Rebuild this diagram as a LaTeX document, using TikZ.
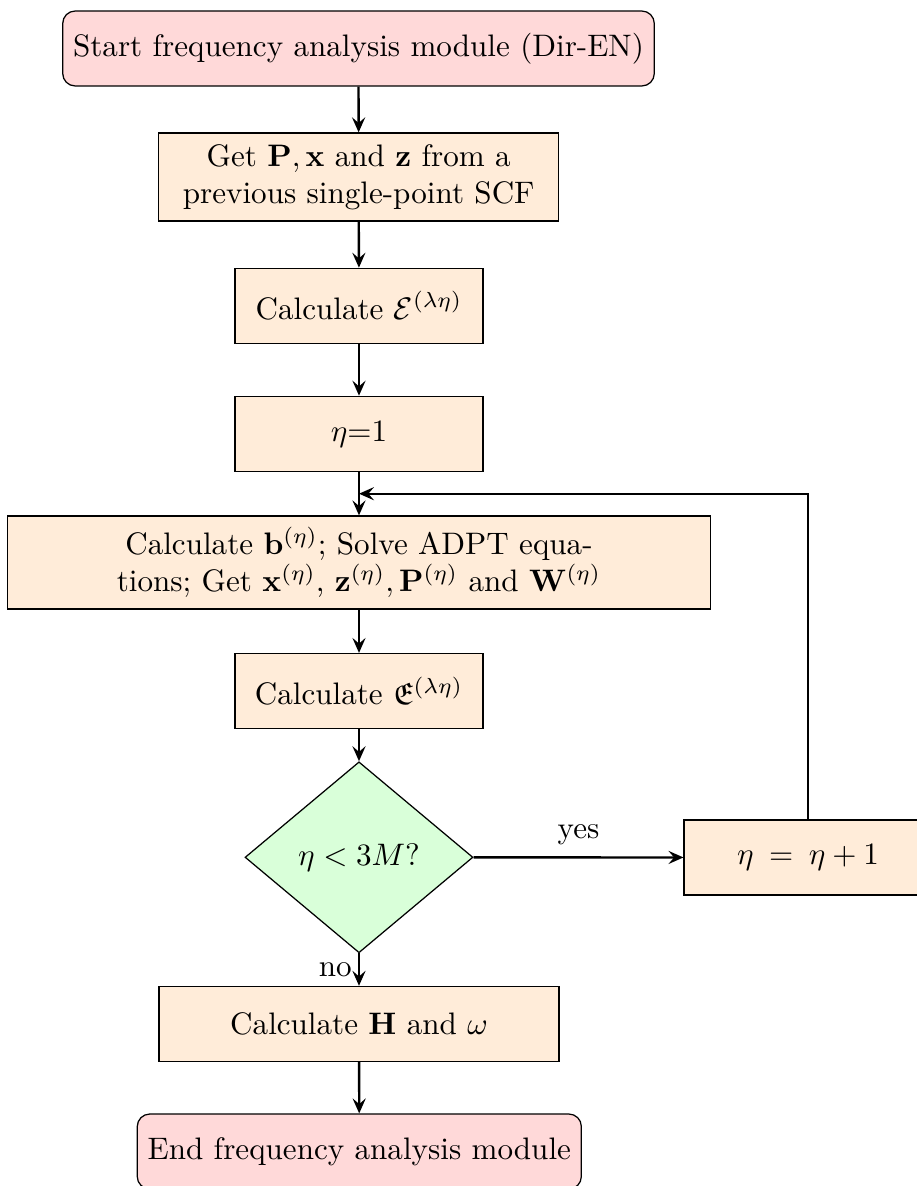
\documentclass[tikz,border=0pt]{standalone}
\usepackage{amsmath,amssymb}
\usetikzlibrary{shapes.geometric,arrows.meta}
\begin{document}
\begin{tikzpicture}[x=0.32155pt,y=-0.32155pt,
  base/.style={draw, line width=0.4pt, align=center, inner sep=3.33pt},
  term/.style={base, rounded corners=4pt, fill=red!15, minimum height=24.1pt},
  proc/.style={base, fill=orange!15, minimum height=24.1pt},
  smallproc/.style={proc, minimum width=79.7pt},
  wideproc/.style={proc, minimum width=128.6pt},
  dec/.style={base, diamond, fill=green!15, inner sep=0pt, minimum width=73.3pt, minimum height=61.4pt},
  conn/.style={line width=0.75pt, -{Stealth[length=4.8pt,width=4.2pt,inset=1.8pt]}},
  plain/.style={line width=0.75pt}
]
\useasboundingbox (0,0) rectangle (916,1186);
\node[term] (start) at (358.5,48.5) {Start frequency analysis module (Dir-EN)};
\node[wideproc, minimum height=28.3pt] (get) at (358.7,177) {Get $\mathbf{P},\mathbf{x}$ and $\mathbf{z}$ from a\\previous single-point SCF};
\node[smallproc] (calcE) at (359,305.8) {Calculate $\mathcal{E}^{(\lambda\eta)}$};
\node[smallproc] (eta1) at (359,433.8) {$\eta$=1};
\node[proc, minimum width=226pt, minimum height=29.9pt] (calcb) at (359,562.5) {Calculate $\mathbf{b}^{(\eta)}$; Solve ADPT equa-\\tions; Get $\mathbf{x}^{(\eta)}$, $\mathbf{z}^{(\eta)}, \mathbf{P}^{(\eta)}$ and $\mathbf{W}^{(\eta)}$};
\node[smallproc] (frakE) at (359,691) {Calculate $\mathfrak{E}^{(\lambda\eta)}$};
\node[dec] (cond) at (359,857.3) {$\eta<3M$?};
\node[smallproc] (inc) at (808,857.5) {$\eta$ \,=\, $\eta+1$};
\node[wideproc] (calcH) at (359,1023.9) {Calculate $\mathbf{H}$ and $\omega$};
\node[term] (end) at (359.3,1151.5) {End frequency analysis module};
\coordinate (loop) at (359,493.7);

\draw[conn] (start) -- (get);
\draw[conn] (get) -- (calcE);
\draw[conn] (calcE) -- (eta1);
\draw[conn] (eta1) -- (calcb);
\draw[conn] (calcb) -- (frakE);
\draw[conn] (frakE) -- (cond);
\draw[conn] (cond) -- node[above, inner sep=3.5pt] {yes} (inc);
\draw[conn] (cond) -- node[left, inner sep=2pt] {no} (calcH);
\draw[conn] (calcH) -- (end);
\draw[conn] (inc) |- (loop);
\end{tikzpicture}
\end{document}
